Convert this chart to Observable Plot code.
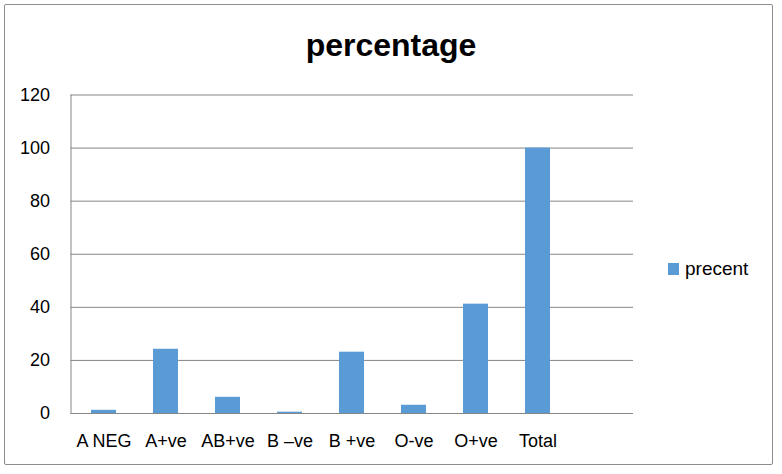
<!DOCTYPE html>
<html>
<head>
<meta charset="utf-8">
<script src="https://cdn.jsdelivr.net/npm/d3@7"></script>
<script src="https://cdn.jsdelivr.net/npm/@observablehq/plot@0.6"></script>
<style>
  html, body { margin: 0; padding: 0; background: #fff; }
  #wrap { position: relative; width: 782px; height: 474px; overflow: hidden; font-family: "Liberation Sans", Arial, sans-serif; }
  #border { position: absolute; left: 4px; top: 4px; width: 769px; height: 461px; border: 1px solid #8c8c8c; border-radius: 2px; box-sizing: border-box; }
  #title { position: absolute; left: 0; width: 782px; top: 26px; text-align: center; font-size: 32px; font-weight: bold; line-height: 38px; color: #000; }
  #legend { position: absolute; left: 668px; top: 258px; font-size: 19px; line-height: 22px; color: #000; display: flex; align-items: center; }
  #legend .sw { width: 11px; height: 12px; background: #5B9BD5; margin-right: 6px; }
  #chart { position: absolute; left: 0; top: 0; }
</style>
</head>
<body>
<div id="wrap">
  <div id="chart"></div>
  <div id="title">percentage</div>
  <div id="legend"><span class="sw"></span><span>precent</span></div>
  <div id="border"></div>
</div>
<script>
const categories = ["A NEG", "A+ve", "AB+ve", "B \u2013ve", "B +ve", "O-ve", "O+ve", "Total"];
const values = [1.2, 24.2, 6.1, 0.5, 23.1, 3.1, 41.2, 100];
const yTicks = [0, 20, 40, 60, 80, 100, 120];
const seriesName = "precent";

const data = categories.map((c, i) => ({category: c, value: values[i]}));
const xDomain = [...categories, "\u00a0"];

const chart = Plot.plot({
  width: 782,
  height: 474,
  marginLeft: 70.5,
  marginRight: 149,
  marginTop: 94.5,
  marginBottom: 61,
  style: {fontFamily: "Liberation Sans, Arial, sans-serif", background: "transparent"},
  x: {domain: xDomain, paddingInner: 0.6, paddingOuter: 0.3, label: null},
  y: {domain: [0, 120], label: null},
  marks: [
    Plot.ruleY(yTicks, {stroke: "#868686", strokeWidth: 1}),
    Plot.frame({anchor: "left", stroke: "#868686"}),
    Plot.barY(data, {x: "category", y: "value", fill: "#5B9BD5", title: d => `${seriesName}: ${d.value}`}),
    Plot.axisY(yTicks, {tickSize: 0, tickPadding: 21, fontSize: 18, fill: "#000", label: null}),
    Plot.axisX({tickSize: 0, tickPadding: 21, fontSize: 18, fill: "#000", label: null})
  ]
});
document.getElementById("chart").appendChild(chart);
</script>
</body>
</html>
